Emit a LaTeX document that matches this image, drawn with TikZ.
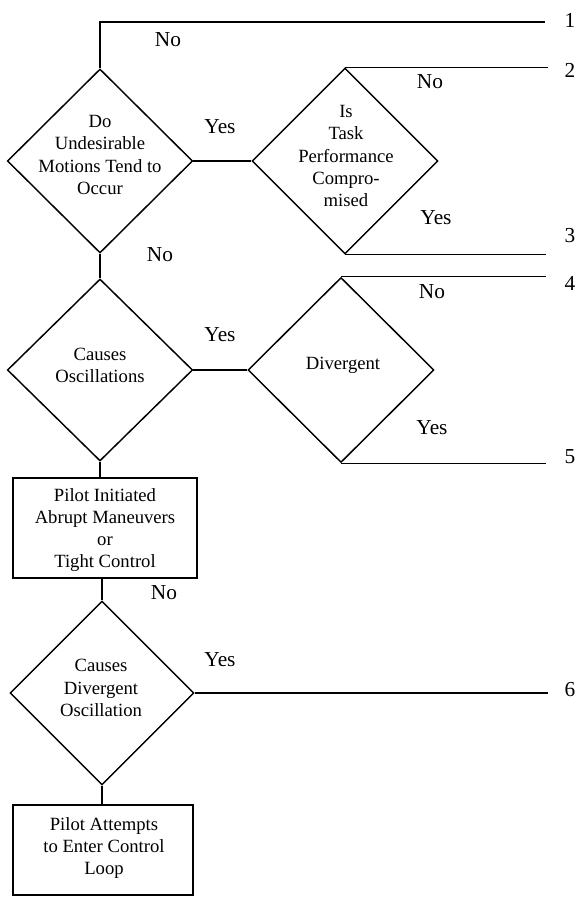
\documentclass[tikz,border=0pt]{standalone}
\usepackage{fontspec}
\setmainfont{Liberation Serif}
\usetikzlibrary{shapes.geometric}
\begin{document}
\begin{tikzpicture}[x=0.75pt,y=-0.75pt,line width=1.1pt,
  dia/.style={draw,shape=diamond,inner sep=0pt,aspect=1},
  boxn/.style={draw,rectangle,inner sep=0pt},
  txt/.style={align=center,font=\fontsize{14}{16.6}\selectfont,inner sep=0pt},
  lab/.style={font=\fontsize{16}{19}\selectfont,inner sep=0pt},
  num/.style={font=\fontsize{16}{19}\selectfont,inner sep=0pt}]
\useasboundingbox (0,0) rectangle (576,898);
% shapes
\node[dia,minimum width=139pt,minimum height=138pt] (d1) at (100,161) {};
\node[dia,minimum width=139.5pt,minimum height=139.5pt] (d2) at (345,161) {};
\node[dia,minimum width=139pt,minimum height=136.5pt] (d3) at (100,370) {};
\node[dia,minimum width=139.5pt,minimum height=138.75pt] (d4) at (341,370) {};
\node[boxn,minimum width=138pt,minimum height=75pt] (b1) at (105,528) {};
\node[dia,minimum width=138pt,minimum height=138pt] (d5) at (102,693) {};
\node[boxn,minimum width=135pt,minimum height=67.5pt] (b2) at (103,850) {};
% texts
\node[txt] (t1) at (100,155) {Do\\Undesirable\\Motions Tend to\\Occur};
\node[txt] (t2) at (346,156) {Is\\Task\\Performance\\Compro-\\mised};
\node[txt] (t3) at (100,365) {Causes\\Oscillations};
\node[txt] (t4) at (343,365) {Divergent};
\node[txt] (t5) at (105,530) {Pilot Initiated\\Abrupt Maneuvers\\or\\Tight Control};
\node[txt] (t6) at (101,688) {Causes\\Divergent\\Oscillation};
\node[txt] (t7) at (104,848) {Pilot Attempts\\to Enter Control\\Loop};
% end coordinates
\coordinate (c0) at (100,22);
\coordinate (e1) at (545,22);
\coordinate (e2) at (548,69);
\coordinate (e3) at (546,255);
\coordinate (e4) at (546,277);
\coordinate (e5) at (546,462);
\coordinate (e6) at (548,693);
% connectors
\draw (d1.north) -- (c0) -- (e1);
\draw (d1.east) -- (d2.west);
\draw (d2.north) -- (d2.north -| e2);
\draw (d2.south) -- (d2.south -| e3);
\draw (d1.south) -- (d3.north);
\draw (d3.east) -- (d4.west);
\draw (d4.north) -- (d4.north -| e4);
\draw (d4.south) -- (d4.south -| e5);
\draw (d3.south) -- (d3.south |- b1.north);
\draw (d5.north |- b1.south) -- (d5.north);
\draw (d5.east) -- (d5.east -| e6);
\draw (d5.south) -- (d5.south |- b2.north);
% labels
\node[lab] (l1) at (168,40) {No};
\node[lab] (l2) at (220,127) {Yes};
\node[lab] (l3) at (430,82) {No};
\node[lab] (l4) at (436,218) {Yes};
\node[lab] (l5) at (160,255) {No};
\node[lab] (l6) at (220,335) {Yes};
\node[lab] (l7) at (432,292) {No};
\node[lab] (l8) at (432,428) {Yes};
\node[lab] (l9) at (164,593) {No};
\node[lab] (l10) at (220,660) {Yes};
% numbers
\node[num] (n1) at (570,20) {1};
\node[num] (n2) at (570,70) {2};
\node[num] (n3) at (570,236) {3};
\node[num] (n4) at (570,283) {4};
\node[num] (n5) at (570,457) {5};
\node[num] (n6) at (570,690) {6};
\end{tikzpicture}
\end{document}
